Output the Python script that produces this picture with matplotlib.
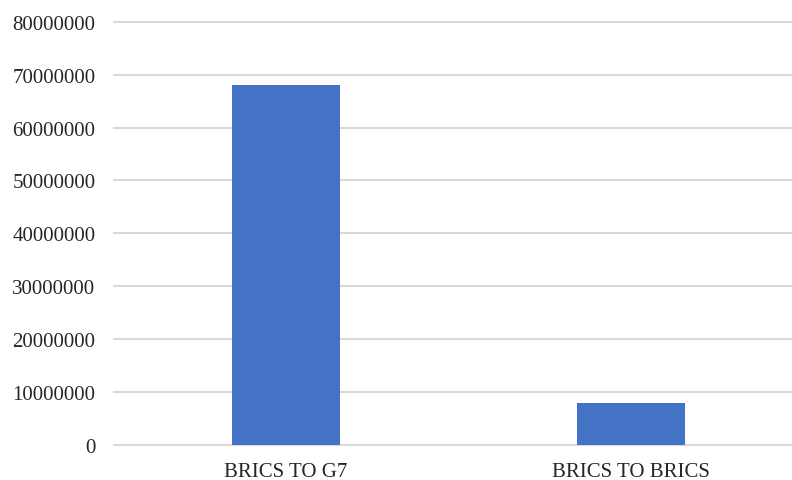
import matplotlib as mpl
import matplotlib.pyplot as plt
import numpy as np

config = {
    "font.family": ['Liberation Serif', 'DejaVu Serif'],
    "font.size": 15,
}
mpl.rcParams.update(config)

# data
categories = ["BRICS TO G7", "BRICS TO BRICS"]
values = [68000000, 7900000]
yticks = np.arange(0, 80000001, 10000000)

fig = plt.figure(figsize=(7.92, 4.81), dpi=100)
# plot area runs past the right edge of the picture (cropped original)
ax = fig.add_axes([113.5 / 792, 35 / 481, 690 / 792, 423.3 / 481])

x = np.arange(len(categories))
ax.bar(x, values, width=0.313, color="#4472C4", zorder=3)

ax.set_xlim(-0.5, 1.5)
ax.set_ylim(0, 80000000)
ax.set_yticks(yticks)
ax.set_yticklabels([str(int(v)) for v in yticks], color="#262626")
ax.set_xticks(x)
ax.set_xticklabels(categories, color="#262626")
ax.tick_params(axis='both', length=0)
ax.tick_params(axis='y', pad=13)
ax.tick_params(axis='x', pad=12)

ax.grid(True, axis='y', color="#d9d9d9", linewidth=1.5, zorder=0)
for line in ax.get_ygridlines():
    line.set_clip_on(False)
for loc, spine in ax.spines.items():
    spine.set_color('none')

plt.savefig("out.png", dpi=100)
plt.close()
